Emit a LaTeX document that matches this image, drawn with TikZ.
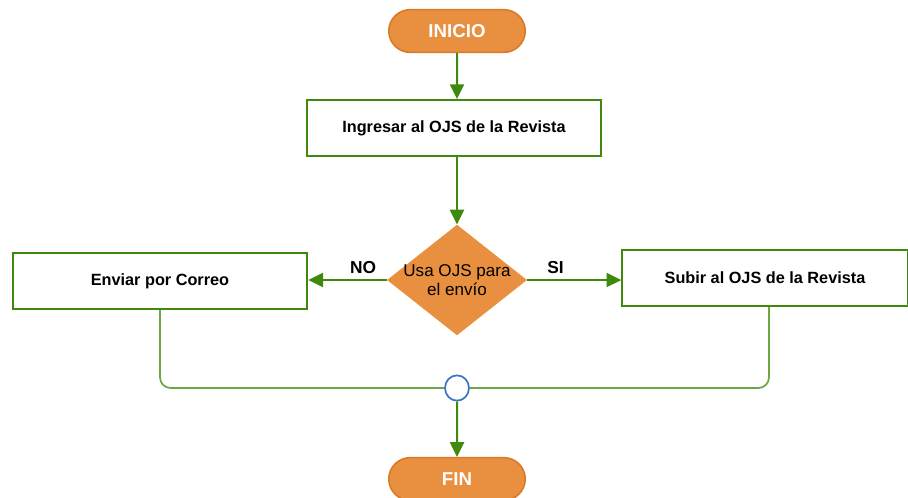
\documentclass[tikz,border=0pt]{standalone}
\usepackage{fontspec}
\setmainfont{Liberation Sans}
\usetikzlibrary{shapes.geometric,
	shapes.misc,
	arrows.meta,
	calc,
	positioning}
\definecolor{naranja}{HTML}{E8903F}
\definecolor{naranjaborde}{HTML}{D97A2B}
\definecolor{verde}{HTML}{3F8A0C}
\definecolor{verdeclaro}{HTML}{6BA843}
\definecolor{azul}{HTML}{3A76C4}

\begin{document}
\begin{tikzpicture}[x=0.75pt, y=-0.75pt,
	terminal/.style={rounded rectangle, draw=naranjaborde, line width=1.2pt, fill=naranja, text=white, font=\bfseries\fontsize{14}{16}\selectfont, minimum width=109pt, minimum height=32pt},
	proceso/.style={rectangle, draw=verde, line width=1.5pt, fill=white, font=\bfseries\fontsize{12.2}{14}\selectfont, minimum width=221pt, minimum height=42pt},
	decision/.style={diamond, fill=naranja, font=\fontsize{12.8}{14.3}\selectfont, align=center, minimum width=105pt, minimum height=83pt, inner sep=-4pt, aspect=1.27},
	flecha/.style={draw=verde, line width=1.5pt, -{Triangle[length=11pt, width=10.5pt]}},
	etiqueta/.style={font=\bfseries\fontsize{13}{15}\selectfont},
	union/.style={draw=verdeclaro, line width=1.3pt, rounded corners=8pt}]
	\useasboundingbox (0,0) rectangle (908,497);
	\node[terminal] (inicio) at (457,31) {INICIO};
	\node[proceso] (ingresar) at (454,128) {Ingresar al OJS de la Revista};
	\node[decision] (usa) at (457,280) {Usa OJS para\\el envío};
	\node[proceso] (correo) at (160,281) {Enviar por Correo};
	\node[proceso, minimum width=214pt] (subir) at (765,278) {Subir al OJS de la Revista};
	\node[ellipse, draw=azul, line width=1.3pt, fill=white, minimum width=18pt, minimum height=19pt, inner sep=0pt] (junta) at (457,388) {};
	\node[terminal] (fin) at (457,479) {FIN};
	% conectores
	\draw[flecha] (inicio) -- (ingresar.north -| inicio);
	\draw[flecha] (ingresar.south -| inicio) -- (usa);
	\draw[flecha] (usa) -- node[etiqueta, above=1pt, pos=0.3] {NO} (correo.east |- usa);
	\draw[flecha] (usa) -- node[etiqueta, above=1pt, pos=0.3] {SI} (subir.west |- usa);
	\draw[union] (correo.south) |- (junta.west);
	\draw[union] ($(subir.south)+(4,0)$) |- (junta.east);
	\draw[flecha] (junta) -- (fin);
\end{tikzpicture}
\end{document}
